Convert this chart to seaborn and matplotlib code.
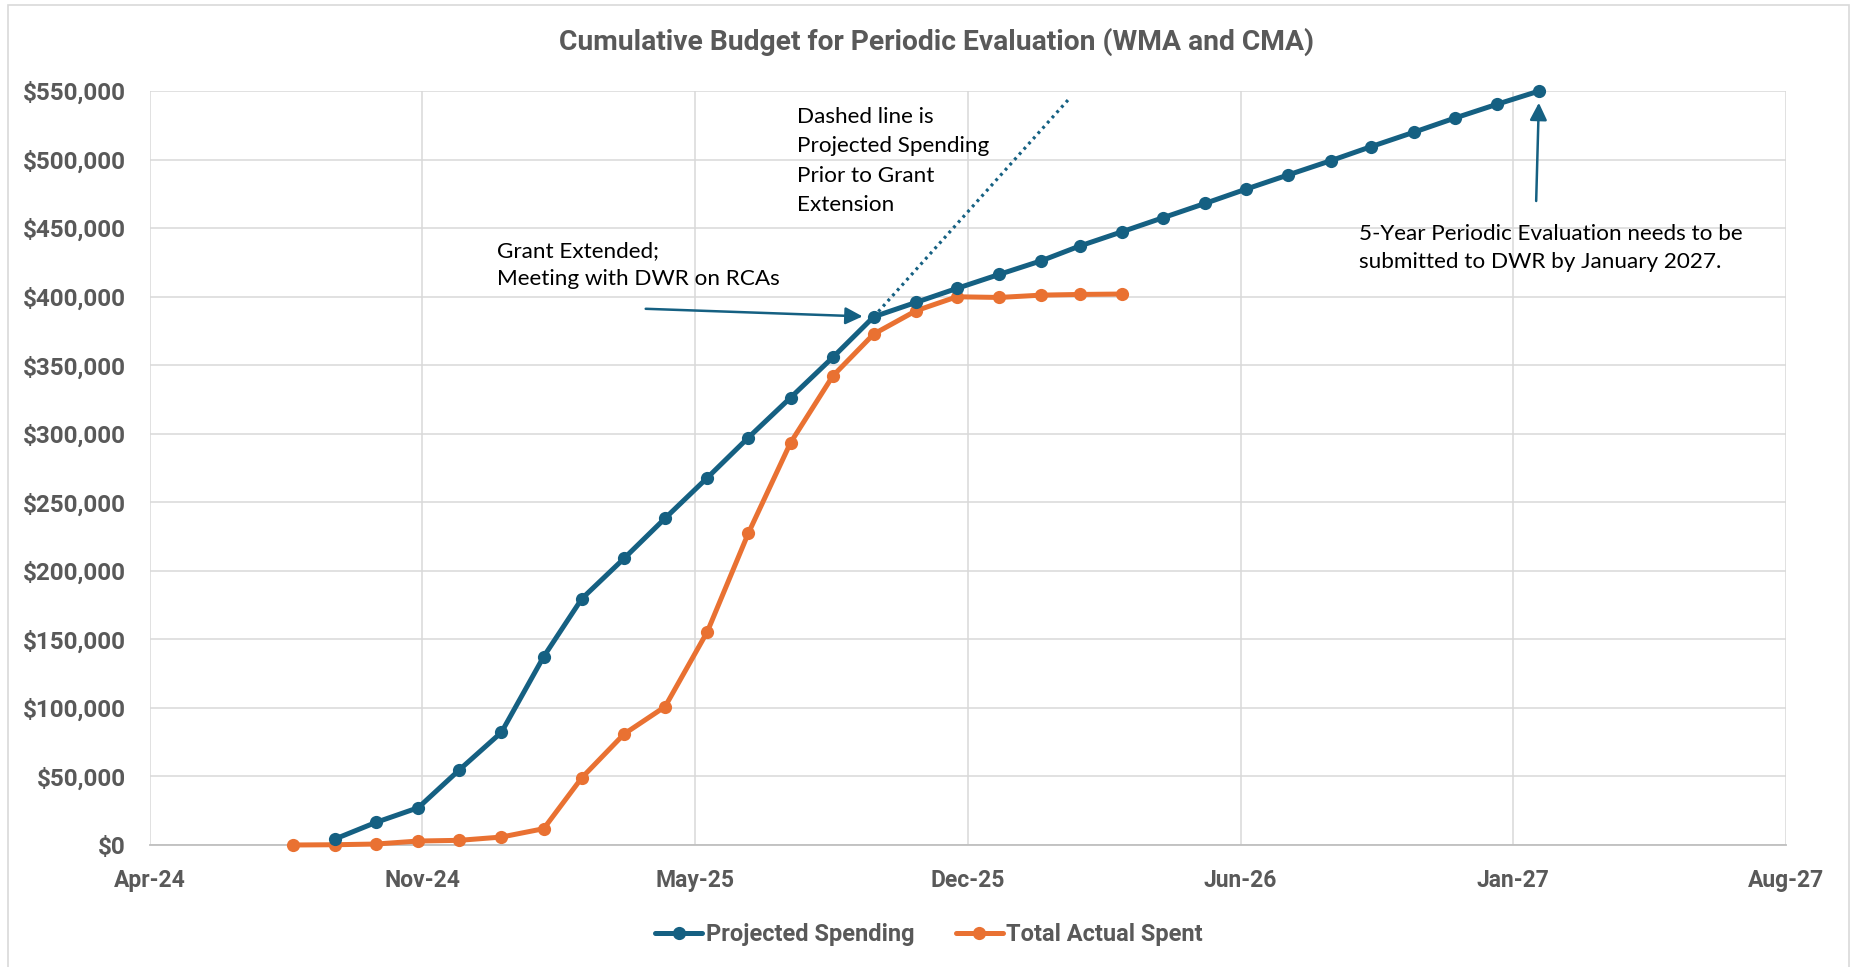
import pandas as pd
import numpy as np
import seaborn as sns
import matplotlib.dates as mdates
from matplotlib import pyplot as plt
from matplotlib.patches import Rectangle
from matplotlib.ticker import FuncFormatter

# data
projected_dates = pd.date_range("2024-09-01", "2027-02-01", freq="MS")
projected_spending = [4400, 16500, 27200, 54700, 82200, 137400, 179700, 209100,
                      238300, 267900, 297100, 326300, 355700, 385300, 395800,
                      406000, 416200, 426200, 436900, 447300, 457500, 468000,
                      478400, 488800, 499100, 509500, 519900, 530200, 540300,
                      550000]
actual_dates = pd.date_range("2024-08-01", "2026-04-01", freq="MS")
actual_spent = [0, 200, 700, 2900, 3400, 5800, 11900, 49100, 81000, 100900,
                155600, 227300, 293400, 342100, 372700, 389700, 399900, 399400,
                401100, 401600, 401900]
# dotted line: projected spending prior to grant extension
prior_dates = pd.to_datetime(["2025-10-01", "2026-02-21"])
prior_spending = [385300, 544000]

x_start = pd.Timestamp("2024-04-18")
x_step_days = 200
y_ticks = np.arange(0, 550001, 50000)

BLUE = "#156082"
ORANGE = "#E97132"
GRAY = "#595959"
GRID = "#D9D9D9"

sns.set_theme(style="white")
plt.rcParams["font.family"] = ["Roboto", "DejaVu Sans"]
plt.rcParams["font.weight"] = "bold"

W, H = 1855, 967
fig = plt.figure(figsize=(W / 100, H / 100), dpi=100)
ax = fig.add_axes([149.6 / W, 1 - 845 / H, (1786 - 149.6) / W, (845 - 91) / H])

df_proj = pd.DataFrame({"date": projected_dates, "value": projected_spending})
df_act = pd.DataFrame({"date": actual_dates, "value": actual_spent})
df_prior = pd.DataFrame({"date": prior_dates, "value": prior_spending})

sns.lineplot(data=df_prior, x="date", y="value", ax=ax, color=BLUE, lw=2.3,
             dashes=False, linestyle=(0, (0.9, 1.3)), legend=False, zorder=2)
sns.lineplot(data=df_proj, x="date", y="value", ax=ax, color=BLUE, lw=3.6,
             marker="o", markersize=9.5, markeredgewidth=0, clip_on=False,
             label="Projected Spending", zorder=4)
sns.lineplot(data=df_act, x="date", y="value", ax=ax, color=ORANGE, lw=3.6,
             marker="o", markersize=9.5, markeredgewidth=0, clip_on=False,
             label="Total Actual Spent", zorder=3)

# axes
x0 = mdates.date2num(x_start)
ax.set_xlim(x0, x0 + 6 * x_step_days)
ax.set_xticks([x0 + i * x_step_days for i in range(7)])
ax.xaxis.set_major_formatter(mdates.DateFormatter("%b-%y"))
ax.set_ylim(0, 550000)
ax.set_yticks(y_ticks)
ax.yaxis.set_major_formatter(FuncFormatter(lambda v, p: f"${v:,.0f}"))
ax.grid(True, color=GRID, lw=1.1)
ax.set_axisbelow(True)
for s in ["top", "right", "left"]:
    ax.spines[s].set_visible(False)
ax.spines["bottom"].set_color("#BFBFBF")
ax.spines["bottom"].set_linewidth(1.3)
ax.tick_params(axis="both", length=0, labelcolor=GRAY)
ax.tick_params(axis="y", pad=17, labelsize=17.5)
ax.tick_params(axis="x", pad=17, labelsize=16.5)
ax.set_xlabel("")
ax.set_ylabel("")

fig.text(936 / W, 1 - 42 / H, "Cumulative Budget for Periodic Evaluation (WMA and CMA)",
         ha="center", va="center", fontsize=20.3, fontweight="bold", color=GRAY)

leg = ax.legend(loc="center", bbox_to_anchor=(929 / W, 1 - 934.5 / H),
                bbox_transform=fig.transFigure, ncol=2, frameon=False,
                fontsize=17, handlelength=2.0, handletextpad=0.15,
                columnspacing=1.75)
for t in leg.get_texts():
    t.set_color(GRAY)

# annotations
note = dict(ha="left", va="top", fontsize=16.2, color="black",
            fontweight="normal", family=["Lato", "DejaVu Sans"], linespacing=1.58)
fig.text(797 / W, 1 - 107 / H,
         "Dashed line is\nProjected Spending\nPrior to Grant\nExtension", **note)
fig.text(497 / W, 1 - 241 / H, "Grant Extended;\nMeeting with DWR on RCAs",
         **dict(note, linespacing=1.48))
fig.text(1359 / W, 1 - 224 / H,
         "5-Year Periodic Evaluation needs to be\nsubmitted to DWR by January 2027.",
         **dict(note, linespacing=1.48))

arrow = dict(arrowstyle="-|>", color=BLUE, lw=1.8, mutation_scale=26, shrinkA=0)
ax.annotate("", xy=(projected_dates[13], projected_spending[13]),
            xytext=(-228, 8), textcoords="offset pixels",
            arrowprops=dict(arrow, shrinkB=8))
ax.annotate("", xy=(projected_dates[-1], projected_spending[-1]),
            xytext=(-3, -110), textcoords="offset pixels",
            arrowprops=dict(arrow, shrinkB=8.5))

# chart border
fig.patches.append(Rectangle((7.5 / W, -0.02), (1848.7 - 7.5) / W, 1.02 - 4.7 / H,
                             transform=fig.transFigure, fill=False,
                             edgecolor=GRID, lw=1.2))

fig.savefig("out.png", dpi=100)
